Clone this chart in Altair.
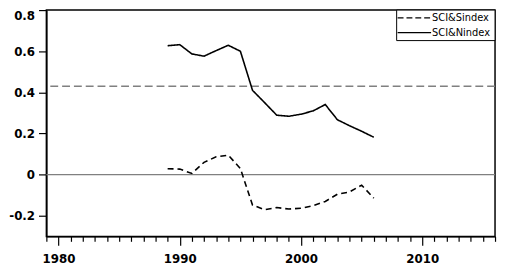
import altair as alt
import pandas as pd

years = list(range(1989, 2007))
n_index = [0.627, 0.632, 0.587, 0.576, 0.603, 0.629, 0.600, 0.410, 0.350,
           0.289, 0.284, 0.294, 0.310, 0.341, 0.267, 0.238, 0.211, 0.182]
s_index = [0.029, 0.027, 0.006, 0.060, 0.087, 0.095, 0.030, -0.148, -0.170,
           -0.160, -0.167, -0.163, -0.151, -0.130, -0.095, -0.084, -0.051, -0.114]
series_names = ["SCI&Sindex", "SCI&Nindex"]
threshold = [0.43]
zero_line = [0.0]
x_ticks = list(range(1979, 2017))
y_ticks = [-0.2, 0.0, 0.2, 0.4, 0.6, 0.8]

df = pd.DataFrame({
    "year": years * 2,
    "value": s_index + n_index,
    "series": [series_names[0]] * len(years) + [series_names[1]] * len(years),
})

x_enc = alt.X(
    "year:Q",
    scale=alt.Scale(domain=[1979, 2016], nice=False, zero=False),
    axis=alt.Axis(
        values=x_ticks,
        labelExpr="datum.value % 10 === 0 ? '' + datum.value : ''",
        tickSize={"condition": {"test": "datum.value % 10 === 0", "value": 9}, "value": 5},
        labelPadding=9,
        grid=False,
        title=None,
        labelFlush=False,
    ),
)
y_enc = alt.Y(
    "value:Q",
    scale=alt.Scale(domain=[-0.3, 0.8], nice=False, zero=False),
    axis=alt.Axis(
        values=y_ticks,
        labelExpr="datum.value == 0 ? '0' : (datum.value < 0 ? '-' + format(-datum.value, '.1f') : format(datum.value, '.1f'))",
        labelOffset={"condition": {"test": "datum.value > 0.75", "value": 6}, "value": 0},
        tickSize=8,
        labelPadding=4,
        grid=False,
        title=None,
        labelFlush=False,
    ),
)

lines = alt.Chart(df).mark_line(color="black", strokeWidth=1.6).encode(
    x=x_enc,
    y=y_enc,
    strokeDash=alt.StrokeDash(
        "series:N",
        scale=alt.Scale(domain=series_names, range=[[6, 4], [1, 0]]),
        legend=None,
    ),
    detail="series:N",
)

thr = alt.Chart(pd.DataFrame({"v": threshold})).mark_rule(
    color="#808080", strokeDash=[8, 4], strokeWidth=1.4
).encode(y="v:Q")
zer = alt.Chart(pd.DataFrame({"v": zero_line})).mark_rule(
    color="#808080", strokeWidth=1.3
).encode(y="v:Q")

# manual legend box
box = alt.Chart(pd.DataFrame({"a": [0]})).mark_rect(
    fill="white", stroke="black", strokeWidth=1
).encode(x=alt.value(356), x2=alt.value(456), y=alt.value(0), y2=alt.value(31))
leg_s = alt.Chart(pd.DataFrame({"a": [0]})).mark_rule(
    color="black", strokeDash=[6, 3], strokeWidth=1.3
).encode(x=alt.value(357), x2=alt.value(391), y=alt.value(8))
leg_n = alt.Chart(pd.DataFrame({"a": [0]})).mark_rule(
    color="black", strokeWidth=1.3
).encode(x=alt.value(357), x2=alt.value(391), y=alt.value(23))
txt_s = alt.Chart(pd.DataFrame({"t": [series_names[0]]})).mark_text(
    align="left", baseline="middle", font="DejaVu Sans", fontSize=10, color="black"
).encode(x=alt.value(392), y=alt.value(8), text="t:N")
txt_n = alt.Chart(pd.DataFrame({"t": [series_names[1]]})).mark_text(
    align="left", baseline="middle", font="DejaVu Sans", fontSize=10, color="black"
).encode(x=alt.value(392), y=alt.value(23), text="t:N")

chart = alt.layer(zer, thr, lines, box, leg_s, leg_n, txt_s, txt_n).properties(
    width=456,
    height=230,
    autosize=alt.AutoSizeParams(type="none"),
    padding={"left": 39, "top": 0, "right": 2, "bottom": 30},
).configure_view(
    stroke="black", strokeWidth=1.5
).configure_axis(
    domainColor="black",
    domainWidth=1.5,
    tickColor="black",
    tickWidth=1.2,
    labelColor="black",
    labelFont="DejaVu Sans",
    labelFontSize=12,
    labelFontWeight="bold",
)

chart.save("out.html", embed_options={"renderer": "svg", "actions": False})
